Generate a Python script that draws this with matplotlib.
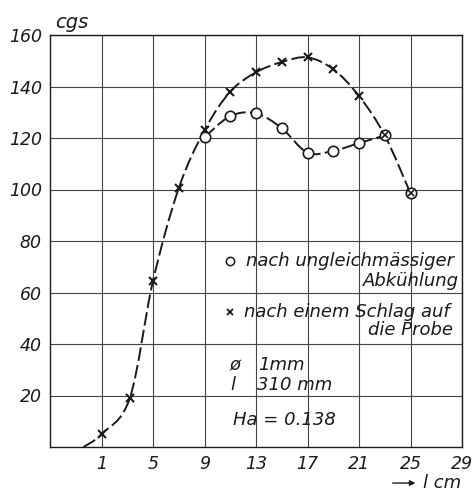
import matplotlib
matplotlib.use("Agg")
import matplotlib.pyplot as plt
from matplotlib.path import Path
from matplotlib.patches import PathPatch

# ---- data ----
x_ticks = [1, 5, 9, 13, 17, 21, 25, 29]
y_ticks = [20, 40, 60, 80, 100, 120, 140, 160]

# after a blow on the sample (x markers)
schlag_x = [1, 3.2, 5, 7, 9, 11, 13, 15, 17, 19, 21, 23, 25]
schlag_y = [5, 19, 64.5, 100.5, 123, 138, 145.5, 149.5, 151.3, 146.7, 136.3, 121, 98.5]
# start of the drawn curve (no marker)
curve_start_x = [-0.4]
curve_start_y = [0]

# after uneven cooling (o markers)
kuehl_x = [9, 11, 13, 15, 17, 19, 21, 23, 25]
kuehl_y = [120.3, 128.5, 129.6, 123.8, 114.3, 115, 118, 121, 98.5]

FONT = "DejaVu Sans"
plt.rcParams['font.family'] = [FONT]

fig = plt.figure(figsize=(4.73, 4.92), dpi=100)
ax = fig.add_axes([50/473, 45/492, 412/473, 412/492])
ax.set_xlim(-3, 29)
ax.set_ylim(0, 160)

ink = '#1a1a1a'
ax.set_xticks(x_ticks)
ax.set_yticks(y_ticks)
ax.grid(True, color='#444444', lw=0.8)
ax.tick_params(length=0, pad=6, labelsize=12.5, colors=ink)
for lab in ax.get_xticklabels() + ax.get_yticklabels():
    lab.set_fontstyle('italic')
for s in ax.spines.values():
    s.set_color(ink)
    s.set_linewidth(1.0)


def smooth_path(xs, ys, tension=6.0):
    """Catmull-Rom style Bezier path through the given points."""
    pts = list(zip(xs, ys))
    verts = [pts[0]]
    codes = [Path.MOVETO]
    n = len(pts)
    for i in range(n - 1):
        p0 = pts[i - 1] if i > 0 else pts[i]
        p1 = pts[i]
        p2 = pts[i + 1]
        p3 = pts[i + 2] if i + 2 < n else pts[i + 1]
        c1 = (p1[0] + (p2[0] - p0[0]) / tension, p1[1] + (p2[1] - p0[1]) / tension)
        c2 = (p2[0] - (p3[0] - p1[0]) / tension, p2[1] - (p3[1] - p1[1]) / tension)
        verts += [c1, c2, p2]
        codes += [Path.CURVE4] * 3
    return Path(verts, codes)


dash = (0, (7, 2.2))
p1 = smooth_path(curve_start_x + schlag_x, curve_start_y + schlag_y)
ax.add_patch(PathPatch(p1, fill=False, ec=ink, lw=1.4, ls=dash, zorder=3))
p2 = smooth_path(kuehl_x[:-1], kuehl_y[:-1])
ax.add_patch(PathPatch(p2, fill=False, ec=ink, lw=1.4, ls=dash, zorder=3))

ax.plot(schlag_x, schlag_y, ls='none', marker='x', ms=6, mew=1.5, color=ink, zorder=4)
ax.plot(kuehl_x, kuehl_y, ls='none', marker='o', ms=7.5, mew=1.2, mfc='white',
        mec=ink, zorder=5)
# crosses inside the shared circles
ax.plot(kuehl_x[-2:], kuehl_y[-2:], ls='none', marker='x', ms=4.5, mew=1.2,
        color=ink, zorder=6)

tkw = dict(fontstyle='italic', fontsize=13, color=ink, va='center')
ax.plot([11.0], [72.3], ls='none', marker='o', ms=6, mfc='none', mec=ink, mew=1.1)
ax.text(12.2, 72.3, 'nach ungleichmässiger', ha='left', **tkw)
ax.text(28.8, 64.3, 'Abkühlung', ha='right', **tkw)
ax.plot([11.0], [52.5], ls='none', marker='x', ms=5, mew=1.3, color=ink)
ax.text(12.1, 52.5, 'nach einem Schlag auf', ha='left', **tkw)
ax.text(28.3, 45.5, 'die Probe', ha='right', **tkw)
ax.text(10.9, 31.8, 'ø', ha='left', **tkw)
ax.text(13.2, 31.8, '1mm', ha='left', **tkw)
ax.text(11.0, 24.0, 'l', ha='left', **tkw)
ax.text(13.1, 24.0, '310 mm', ha='left', **tkw)
ax.text(11.2, 10.5, 'Ha = 0.138', ha='left', **tkw)

ax.text(-1.3, 165, 'cgs', ha='center', va='center', fontstyle='italic',
        fontsize=14, color=ink, clip_on=False)
ax.annotate('', xy=(25.6, -14), xytext=(23.4, -14), xycoords='data',
            arrowprops=dict(arrowstyle='-|>', color=ink, lw=1.0, mutation_scale=8),
            annotation_clip=False)
ax.text(26.0, -14, 'l cm', ha='left', va='center', fontstyle='italic',
        fontsize=13, color=ink, clip_on=False)

fig.savefig('out.png', dpi=100, facecolor='white')
